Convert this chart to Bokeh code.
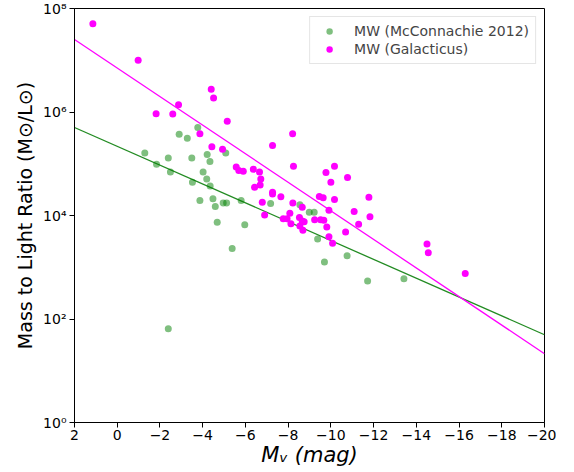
import numpy as np
from bokeh.plotting import figure
from bokeh.models import Range1d, FixedTicker, Legend, LegendItem
from bokeh.embed import file_html
from bokeh.resources import INLINE

# ---- data ----
mcc_mv = [-3.77, -2.90, -3.28, -1.29, -2.39, -3.49, -4.21, -5.08, -4.34, -1.84,
          -2.49, -4.02, -4.19, -3.52, -4.35, -3.87, -4.48, -4.59, -4.96, -5.12,
          -5.80, -7.18, -8.55, -8.99, -9.22, -4.68, -5.97, -5.38, -9.38, -2.39,
          -9.70, -10.76, -11.72, -13.42]
mcc_ml = [5.0e5, 3.7e5, 3.1e5, 1.62e5, 1.29e5, 1.29e5, 1.51e5, 1.62e5, 1.1e5, 9.8e4,
          6.9e4, 6.9e4, 5.1e4, 4.4e4, 3.7e4, 1.95e4, 2.1e4, 1.5e4, 1.74e4, 1.74e4,
          1.95e4, 1.7e4, 1.62e4, 1.15e4, 1.15e4, 7.4e3, 6.6e3, 2.3e3, 3.5e3, 65,
          1.26e3, 1.66e3, 5.4e2, 6.0e2]

gal_mv = [1.14, -0.98, -4.40, -4.51, -2.87, -1.82, -2.60, -5.15, -3.87, -4.43,
          -4.93, -7.27, -8.21, -8.25, -5.57, -5.69, -5.90, -6.37, -6.66, -6.72,
          -6.69, -6.43, -7.27, -7.27, -7.66, -6.79, -8.22, -8.66, -9.46, -9.64,
          -10.17, -10.17, -9.77, -10.00, -10.78, -11.78, -11.09, -11.83, -9.91, -6.90,
          -8.08, -7.77, -7.95, -8.13, -8.53, -8.66, -8.75, -8.55, -8.69, -9.24,
          -9.52, -9.67, -9.81, -9.91, -10.08, -10.69, -11.30, -14.50, -14.56, -16.29]
gal_ml = [5.1e7, 1.0e7, 2.75e6, 1.86e6, 1.38e6, 9.3e5, 9.1e5, 6.6e5, 3.8e5, 2.14e5,
          1.9e5, 2.24e5, 3.8e5, 8.9e4, 8.7e4, 7.4e4, 7.2e4, 7.8e4, 6.9e4, 5.1e4,
          3.9e4, 3.5e4, 2.8e4, 2.6e4, 2.3e4, 1.8e4, 1.74e4, 1.45e4, 2.34e4, 2.2e4,
          2.04e4, 8.9e4, 6.8e4, 4.4e4, 5.4e4, 2.24e4, 1.2e4, 9.5e3, 1.26e4, 1.02e4,
          1.1e4, 8.7e3, 8.7e3, 6.9e3, 9.1e3, 7.8e3, 7.6e3, 6.3e3, 5.2e3, 8.3e3,
          8.3e3, 8.1e3, 6.0e3, 3.9e3, 2.9e3, 4.8e3, 6.8e3, 2.8e3, 1.9e3, 7.6e2]

# log10(M/L) = intercept + slope * M_V
mcc_fit = [5.336, 0.182]
gal_fit = [6.85, 0.276]

x_limits = [2, -20]
x_ticks = [2, 0, -2, -4, -6, -8, -10, -12, -14, -16, -18, -20]
y_ticks = [1, 1e2, 1e4, 1e6, 1e8]
y_tick_labels = ["10\u2070", "10\u00b2", "10\u2074", "10\u2076", "10\u2078"]

FONT = "DejaVu Sans"

p = figure(width=556, height=470, output_backend="svg", toolbar_location=None,
           x_range=Range1d(*x_limits), y_range=Range1d(1, 1e8), y_axis_type="log",
           min_border_left=74, min_border_right=12, min_border_top=8, min_border_bottom=48)
p.grid.visible = False
p.outline_line_color = "black"
p.outline_line_width = 1
p.background_fill_color = "white"

fit_x = np.array(x_limits, dtype=float)
p.line(fit_x, 10 ** (mcc_fit[0] + mcc_fit[1] * fit_x), line_color="#228b22", line_width=1.3)
p.line(fit_x, 10 ** (gal_fit[0] + gal_fit[1] * fit_x), line_color="#ff00ff", line_width=1.3)

r1 = p.scatter(mcc_mv, mcc_ml, size=7, fill_color="green", fill_alpha=0.5, line_color=None)
r2 = p.scatter(gal_mv, gal_ml, size=7, fill_color="#ff00ff", line_color=None)

legend = Legend(items=[LegendItem(label="MW (McConnachie 2012)", renderers=[r1]),
                       LegendItem(label="MW (Galacticus)", renderers=[r2])],
                location="top_right", margin=8, padding=6, spacing=2,
                glyph_width=26, glyph_height=16, label_height=16, label_standoff=12,
                label_text_font=FONT, label_text_font_size="14px",
                border_line_color="#cccccc", border_line_width=1,
                background_fill_alpha=0.8)
p.add_layout(legend)

for ax in (p.xaxis[0], p.yaxis[0]):
    ax.axis_line_color = "black"
    ax.major_tick_line_color = "black"
    ax.major_tick_out = 5
    ax.major_tick_in = 0
    ax.minor_tick_line_color = None
    ax.major_label_text_font = FONT
    ax.major_label_text_font_size = "14px"
    ax.major_label_text_color = "black"
    ax.axis_label_text_font = FONT
    ax.axis_label_text_font_size = "20px"
    ax.axis_label_text_color = "black"
    ax.axis_label_text_font_style = "normal"

p.xaxis.ticker = FixedTicker(ticks=x_ticks)
p.xaxis.major_label_overrides = {t: (str(t) if t >= 0 else "\u2212" + str(-t)) for t in x_ticks}
p.xaxis.major_label_standoff = 2
p.xaxis.axis_label = "M\u1d65 (mag)"
p.xaxis.axis_label_text_font_style = "italic"
p.xaxis.axis_label_text_font_size = "21px"
p.xaxis.axis_label_standoff = 0

p.yaxis.ticker = FixedTicker(ticks=y_ticks)
p.yaxis.major_label_overrides = {t: l for t, l in zip(y_ticks, y_tick_labels)}
p.yaxis.major_label_standoff = 3
p.yaxis.axis_label = "Mass to Light Ratio (M\u2299/L\u2299)"
p.yaxis.axis_label_text_font_size = "19px"
p.yaxis.axis_label_standoff = 4

open("out.html", "w").write(file_html(p, INLINE))
